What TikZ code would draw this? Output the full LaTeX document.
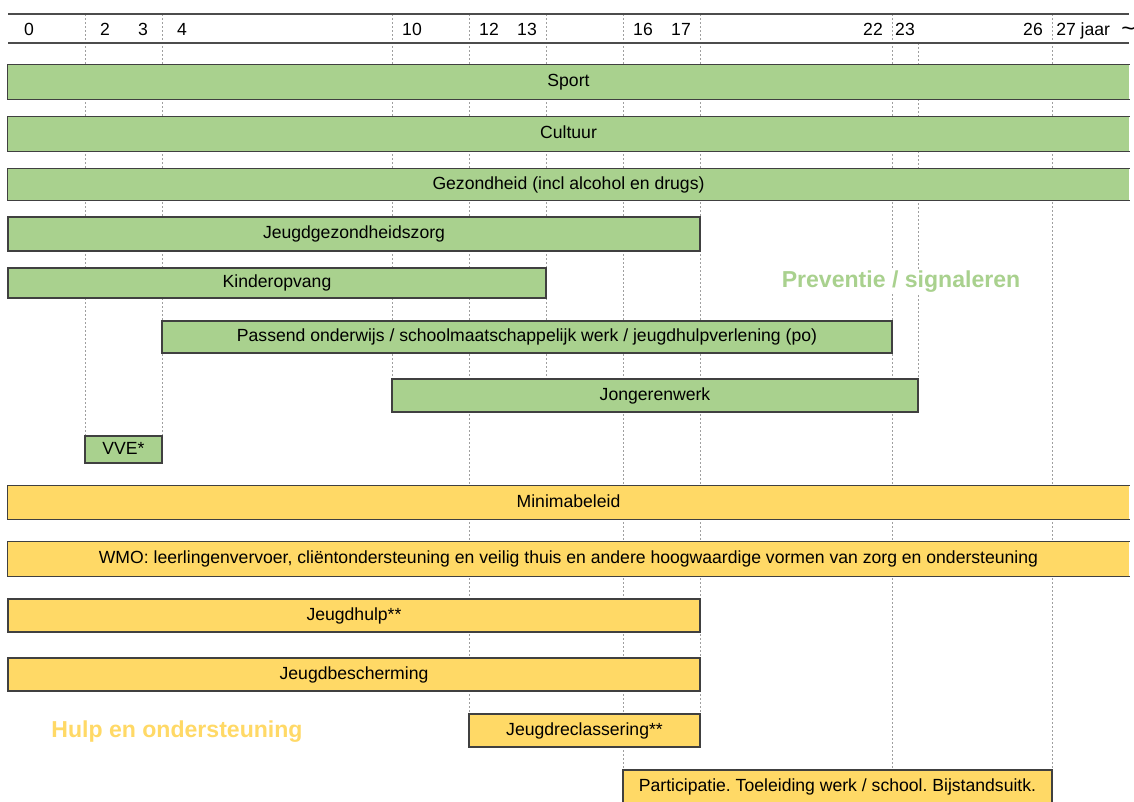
\documentclass[tikz,border=0pt]{standalone}
\usepackage{fontspec}
\setmainfont{Liberation Sans}
\usetikzlibrary{fit}
\definecolor{groen}{HTML}{A9D18E}
\definecolor{geel}{HTML}{FFD966}
\definecolor{rand}{HTML}{404040}
\frenchspacing
\begin{document}
\begin{tikzpicture}[x=0.75pt, y=-0.75pt, font=\fontsize{13.2}{15}\selectfont,
  tekst/.style={inner sep=0pt, text height=0.72em, text depth=0pt},
  balk/.style={draw=rand, line width=1.1pt, inner sep=0pt, label={[tekst]center:{#1}}},
  groenbalk/.style={balk={#1}, fill=groen}, geelbalk/.style={balk={#1}, fill=geel},
  openbalk/.style={draw=none},
  raster/.style={gray!75, line width=0.6pt, dash pattern=on 1.5pt off 1.5pt},
  kop/.style={gray!60!black, line width=0.8pt},
  titel/.style={font=\bfseries\fontsize{17.3}{20}\selectfont, fill=white, inner sep=1pt}]
  \useasboundingbox (0,0) rectangle (1134,801);
  % leeftijdsraster
  \foreach \x/\y in {85/436,162/436,392/379,469/714,546/379,623/770,700/714,892/770,1052/770}
    \draw[raster] (\x,14)--(\x,\y);
  \draw[raster] (918,43)--(918,379);
  \draw[kop] (8,14)--(1129,14) (8,43)--(1129,43);
  \foreach \a/\x in {0/29,2/105,3/143,4/182,10/412,12/489,13/527,16/643,17/681,22/873,23/905,26/1033}
    \node[anchor=base, inner sep=0pt] (age\a) at (\x,35) {\a};
  \node[anchor=base west, inner sep=0pt] (age27) at (1056,35) {27 jaar};
  \node[anchor=base west, inner sep=0pt, font=\fontsize{18}{20}\selectfont] (tilde) at (1121,36) {\textasciitilde};
  % preventie
  \node[groenbalk=Sport, openbalk, fit={(8,65) (1129,99)}] (sport) {};
  \node[groenbalk=Cultuur, openbalk, fit={(8,117) (1129,151)}] (cultuur) {};
  \node[groenbalk={Gezondheid (incl alcohol en drugs)}, openbalk, fit={(8,169) (1129,200)}] (gezond) {};
  \node[groenbalk=Jeugdgezondheidszorg, fit={(8,217) (700,251)}] (jgz) {};
  \node[groenbalk=Kinderopvang, fit={(8,268) (546,298)}] (kinderopvang) {};
  \node[groenbalk={Passend onderwijs / schoolmaatschappelijk werk / jeugdhulpverlening (po)}, fit={(162,321) (892,353)}] (onderwijs) {};
  \node[groenbalk=Jongerenwerk, fit={(392,379) (918,412)}] (jongerenwerk) {};
  \node[groenbalk={VVE*}, fit={(85,436) (162,463)}] (vve) {};
  \node[titel, text=groen] (preventie) at (901,282) {Preventie / signaleren};
  % hulp
  \node[geelbalk=Minimabeleid, openbalk, fit={(8,486) (1129,519)}] (minima) {};
  \node[geelbalk={WMO: leerlingenvervoer, cliëntondersteuning en veilig thuis en andere hoogwaardige vormen van zorg en ondersteuning}, openbalk, fit={(8,542) (1129,576)}] (wmo) {};
  \node[geelbalk={Jeugdhulp**}, fit={(8,599) (700,632)}] (jeugdhulp) {};
  \node[geelbalk=Jeugdbescherming, fit={(8,658) (700,691)}] (bescherming) {};
  \node[geelbalk={Jeugdreclassering**}, fit={(469,714) (700,747)}] (reclassering) {};
  \node[geelbalk={Participatie. Toeleiding werk / school. Bijstandsuitk.}, fit={(623,770) (1052,804)}] (participatie) {};
  \node[titel, text=geel] (hulp) at (177,732) {Hulp en ondersteuning};
  \foreach \n in {sport,cultuur,gezond,minima,wmo}
    \draw[draw=rand, line width=1.1pt] (\n.north east) -| (\n.south west) -- (\n.south east);
\end{tikzpicture}
\end{document}
